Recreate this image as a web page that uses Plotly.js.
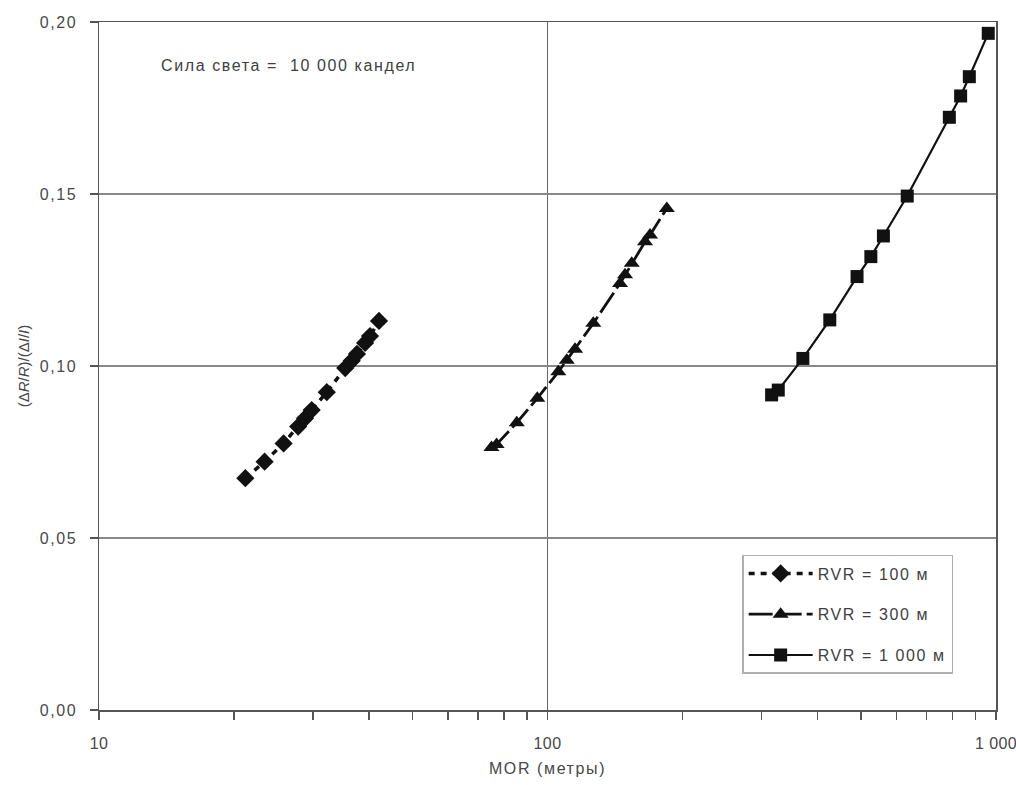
<!DOCTYPE html>
<html>
<head>
<meta charset="utf-8">
<script src="https://cdn.plot.ly/plotly-3.0.1.min.js"></script>
<style>
  html, body { margin: 0; padding: 0; background: #fff; }
  #chart { width: 1016px; height: 785px; }
  .ytick text, .legendtext, .annotation-text, .g-xtitle text { letter-spacing: 1.6px; }
  .xtick text { letter-spacing: 0.4px; }
</style>
</head>
<body>
<div id="chart"></div>
<script>
// MOR (m) and relative sensitivity for three RVR levels, intensity 10 000 cd
const morRvr100 = [21.2, 23.4, 25.8, 27.8, 28.8, 29.8, 32.2, 35.4, 36.6, 37.6, 39.2, 40.2, 42.1];
const sensRvr100 = [0.0674, 0.0722, 0.0775, 0.0824, 0.0848, 0.0872, 0.0924, 0.0994, 0.1015, 0.1035, 0.1067, 0.1087, 0.1131];

const morRvr300 = [75.0, 77.0, 85.4, 94.9, 105.7, 110.4, 115.2, 126.5, 145.1, 148.9, 154.1, 165.0, 169.3, 184.5];
const sensRvr300 = [0.0763, 0.0772, 0.0835, 0.0906, 0.0983, 0.1017, 0.1049, 0.1124, 0.1240, 0.1265, 0.1299, 0.1361, 0.1381, 0.1458];

const morRvr1000 = [316, 327, 371, 426, 490, 526, 561, 634, 787, 834, 872, 961];
const sensRvr1000 = [0.0916, 0.0930, 0.1022, 0.1134, 0.1260, 0.1318, 0.1378, 0.1494, 0.1723, 0.1785, 0.1841, 0.1967];

const seriesNames = ['RVR = 100 м', 'RVR = 300 м', 'RVR = 1 000 м'];

const xMajorVals = [10, 100, 1000];
const xMajorText = ['10', '100', '1 000'];
const xMinorVals = [20, 30, 40, 50, 60, 70, 80, 90, 200, 300, 400, 500, 600, 700, 800, 900];
const yTickVals = [0, 0.05, 0.10, 0.15, 0.20];

const noteText = 'Сила света =\u00a0\u00a010 000 кандел';
const xTitle = 'MOR (метры)';
const yTitle = '(Δ<i>R</i>/<i>R</i>)/(Δ<i>I</i>/<i>I</i>)';

const FONT = 'Liberation Sans, Arial, sans-serif';
const TXT = '#484848';
const AX = '#555555';

const traces = [
  {
    x: morRvr100, y: sensRvr100, name: seriesNames[0], legendgroup: 'a',
    mode: 'lines+markers', type: 'scatter',
    line: { color: '#111', width: 3.5, dash: '6px,6px' },
    marker: { symbol: 'diamond', size: 14, color: '#111' }
  },
  {
    x: morRvr300, y: sensRvr300, name: seriesNames[1], legendgroup: 'b',
    mode: 'lines+markers', type: 'scatter',
    line: { color: '#111', width: 2.8, dash: '24px,5px' },
    marker: { symbol: 'triangle-up', size: 14, color: '#111' }
  },
  {
    x: morRvr1000, y: sensRvr1000, name: seriesNames[2], legendgroup: 'c',
    mode: 'lines+markers', type: 'scatter',
    line: { color: '#111', width: 2.2 },
    marker: { symbol: 'square', size: 13, color: '#111' }
  }
];

const layout = {
  width: 1016, height: 785,
  margin: { l: 99, r: 20, t: 22, b: 75 },
  paper_bgcolor: '#fff', plot_bgcolor: '#fff',
  separators: ', ',
  font: { family: FONT, size: 16, color: TXT },
  showlegend: true,
  xaxis: {
    type: 'log', range: [1, 3],
    tickmode: 'array', tickvals: xMajorVals, ticktext: xMajorText,
    ticks: 'outside', ticklen: 8, tickwidth: 1.5, tickcolor: AX,
    ticklabelstandoff: 10, ticklabeloverflow: 'allow',
    showgrid: true, gridcolor: '#666', gridwidth: 1.2,
    showline: true, linecolor: AX, linewidth: 1.5, mirror: true,
    zeroline: false,
    tickfont: { family: FONT, size: 16, color: TXT },
    minor: { tickmode: 'array', tickvals: xMinorVals, ticks: 'outside', ticklen: 8, tickwidth: 1.5, tickcolor: AX, showgrid: false },
    title: { text: xTitle, font: { family: FONT, size: 16, color: TXT }, standoff: 12 }
  },
  // second bottom axis drawing the inner half of each tick so the marks cross the axis line
  xaxis2: {
    type: 'log', range: [1, 3], overlaying: 'x', anchor: 'y', side: 'bottom',
    tickmode: 'array', tickvals: xMajorVals,
    ticks: 'inside', ticklen: 8, tickwidth: 1.5, tickcolor: AX,
    showticklabels: false, showgrid: false, showline: false, zeroline: false,
    minor: { tickmode: 'array', tickvals: xMinorVals, ticks: 'inside', ticklen: 8, tickwidth: 1.5, tickcolor: AX, showgrid: false }
  },
  yaxis: {
    range: [0, 0.2],
    tickmode: 'array', tickvals: yTickVals, tickformat: '.2f',
    ticks: 'outside', ticklen: 8, tickwidth: 1.5, tickcolor: AX,
    ticklabelstandoff: 9,
    showgrid: true, gridcolor: '#888', gridwidth: 1.5,
    showline: true, linecolor: AX, linewidth: 1.5, mirror: true,
    zeroline: false,
    tickfont: { family: FONT, size: 16, color: TXT },
    title: { text: yTitle, font: { family: FONT, size: 15, color: TXT }, standoff: 6 }
  },
  legend: {
    x: 0.717, y: 0.2253, xanchor: 'left', yanchor: 'top',
    bgcolor: '#fff', bordercolor: '#b0b0b0', borderwidth: 1.5,
    font: { family: FONT, size: 16, color: '#404040' },
    traceorder: 'grouped', tracegroupgap: 17,
    itemwidth: 64
  },
  annotations: [
    {
      text: noteText, xref: 'paper', yref: 'paper',
      x: 0.0669, y: 0.9375, xanchor: 'left', yanchor: 'middle',
      showarrow: false, font: { family: FONT, size: 16, color: '#404040' }
    }
  ]
};

Plotly.newPlot('chart', traces, layout, { displayModeBar: false, staticPlot: true });
</script>
</body>
</html>
